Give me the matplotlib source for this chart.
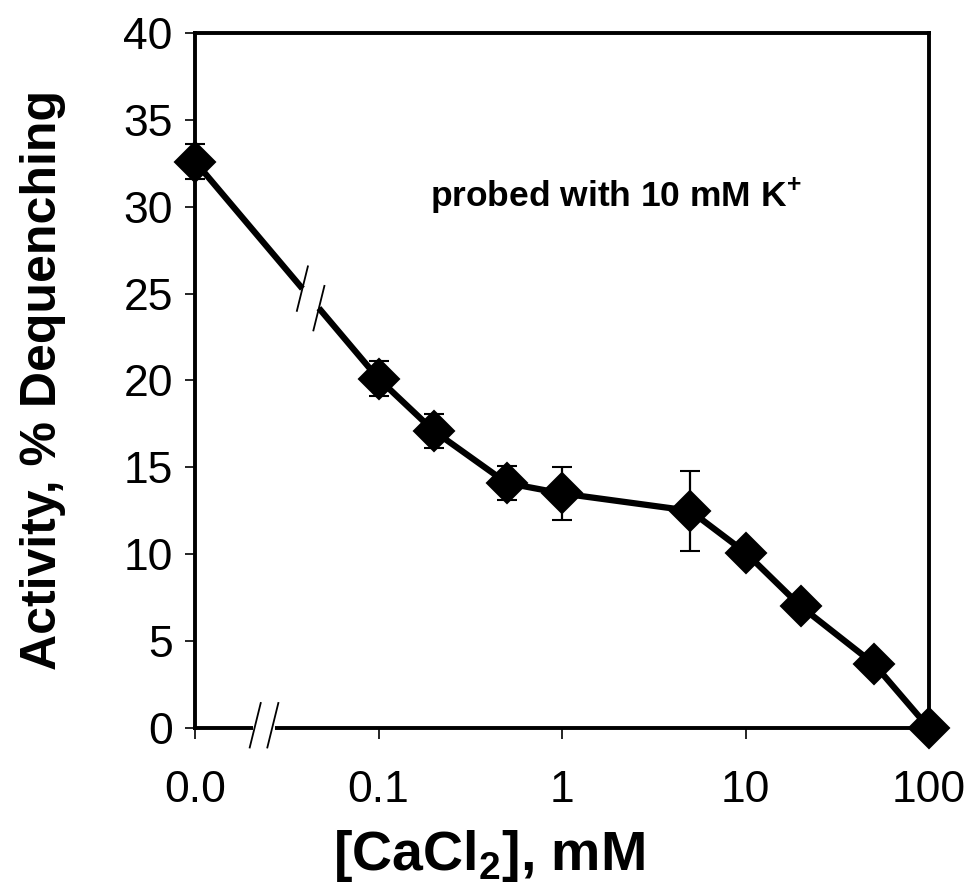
import matplotlib.pyplot as plt
from matplotlib.lines import Line2D

# [CaCl2] in mM, activity in % dequenching, error = half-height of bar
conc = [0, 0.1, 0.2, 0.5, 1, 5, 10, 20, 50, 100]
activity = [32.6, 20.1, 17.1, 14.1, 13.5, 12.5, 10.1, 7.0, 3.7, 0.0]
error = [1.0, 1.0, 1.0, 1.0, 1.55, 2.3, 0.3, 0.3, 0.0, 0.0]
xtick_vals = [0.0, 0.1, 1, 10, 100]
xtick_labels = ["0.0", "0.1", "1", "10", "100"]
ytick_vals = [0, 5, 10, 15, 20, 25, 30, 35, 40]

ZERO_POS = 0.01  # spot where "0.0" sits on the broken log axis
xpos = [c if c > 0 else ZERO_POS for c in conc]
xtick_pos = [c if c > 0 else ZERO_POS for c in xtick_vals]

plt.rcParams["font.family"] = ["Liberation Sans", "DejaVu Sans"]
plt.rcParams["mathtext.fontset"] = "custom"
plt.rcParams["mathtext.rm"] = "Liberation Sans"
plt.rcParams["mathtext.bf"] = "Liberation Sans:bold"

fig = plt.figure(figsize=(9.67, 8.86), dpi=100)
ax = fig.add_axes([0.2017, 0.1783, 0.759, 0.7845])

eb = ax.errorbar(xpos, activity, yerr=error, fmt="-D", color="black",
                 lw=4.5, ms=20, mec="black", mew=1.5, capsize=7,
                 elinewidth=1.6, capthick=1.6, zorder=4)
for art in [eb.lines[0]] + list(eb.lines[1]) + list(eb.lines[2]):
    art.set_clip_on(False)
for art in eb.lines[1] + eb.lines[2]:
    art.set_zorder(3)

ax.set_xscale("log")
ax.set_xlim(ZERO_POS, 100)
ax.set_ylim(0, 40)
ax.set_xticks(xtick_pos)
ax.set_xticklabels(xtick_labels)
ax.minorticks_off()
ax.set_yticks(ytick_vals)

for s in ax.spines.values():
    s.set_linewidth(2.8)
ax.tick_params(axis="y", direction="out", length=7, width=1.2, pad=9,
               labelsize=32)
ax.tick_params(axis="x", direction="out", length=8, width=1.2, pad=22,
               labelsize=32)

# axis break on the bottom spine
def slash(xc, yc):
    ax.add_line(Line2D([xc + 0.0075, xc - 0.0075], [yc + 0.032, yc - 0.032],
                       transform=ax.transAxes, color="black", lw=1.3,
                       clip_on=False, zorder=6))

ax.add_line(Line2D([0.083, 0.104], [0, 0], transform=ax.transAxes,
                   color="white", lw=5, clip_on=False, zorder=5))
slash(0.082, 0.004)
slash(0.106, 0.004)

# matching break on the first line segment
to_axes = ax.transAxes.inverted()
p0 = to_axes.transform(ax.transData.transform((xpos[0], activity[0])))
p1 = to_axes.transform(ax.transData.transform((xpos[1], activity[1])))
pa = p0 + 0.585 * (p1 - p0)
pb = p0 + 0.675 * (p1 - p0)
ax.add_line(Line2D([pa[0], pb[0]], [pa[1], pb[1]], transform=ax.transAxes,
                   color="white", lw=8, solid_capstyle="butt", zorder=5))
slash(pa[0], pa[1])
slash(pb[0], pb[1])

ax.text(0.32, 0.75, r"probed with 10 mM K$^{\mathbf{+}}$", transform=ax.transAxes,
        fontsize=25.5, fontweight="bold", ha="left", va="baseline")

fig.text(0.506, 0.018, r"[CaCl$_{\mathbf{2}}$], mM", fontsize=40,
         fontweight="bold", ha="center", va="baseline")
fig.text(0.044, 0.571, "Activity, % Dequenching", rotation=90,
         fontsize=36, fontweight="bold", ha="center", va="center")

fig.savefig("out.png", dpi=100)
